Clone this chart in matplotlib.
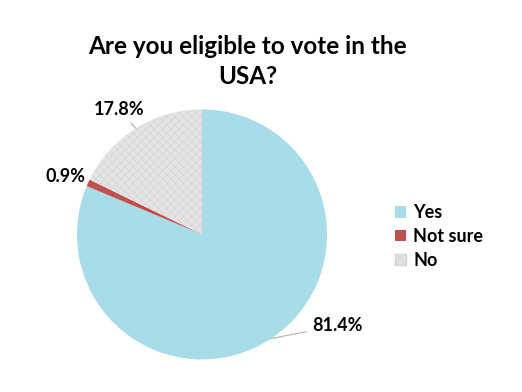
import numpy as np
import matplotlib.pyplot as plt
from matplotlib.patches import Patch

plt.rcParams['font.family'] = ['Lato', 'DejaVu Sans']
plt.rcParams['hatch.linewidth'] = 0.5

# data
labels = ['Yes', 'Not sure', 'No']
values = [81.4, 0.9, 17.8]
colors = ['#A7DCE8', '#C0504D', '#E4E4E4']
# label positions (pie radius = 1)
label_pos = [(1.08, -0.73), (-1.09, 0.46), (-0.66, 1.0)]
leader = [True, False, True]

fig = plt.figure(figsize=(5.22, 3.92), dpi=100)
ax = fig.add_axes([0.1475, 0.083, 0.479, 0.638])

wedges, _ = ax.pie(values, colors=colors, startangle=90, counterclock=False,
                   wedgeprops=dict(linewidth=0))
wedges[2].set_hatch('xxxx')
wedges[2].set_edgecolor('#D4D4D4')
wedges[2].set_linewidth(0)
ax.set_xlim(-1, 1)
ax.set_ylim(-1, 1)

for w, v, pos, ld in zip(wedges, values, label_pos, leader):
    mid = np.deg2rad((w.theta1 + w.theta2) / 2)
    if ld:
        ax.annotate(f'{v:.1f}%', xy=(np.cos(mid), np.sin(mid)), xytext=pos,
                    ha='center', va='center', fontsize=13, fontweight='bold',
                    annotation_clip=False,
                    arrowprops=dict(arrowstyle='-', color='#B0B0B0', lw=0.8,
                                    shrinkA=2, shrinkB=0))
    else:
        ax.text(pos[0], pos[1], f'{v:.1f}%', ha='center', va='center',
                fontsize=13, fontweight='bold')

fig.text(0.475, 1 - 61.5 / 392, 'Are you eligible to vote in the\nUSA?',
         ha='center', va='center', fontsize=17.5, fontweight='bold', linespacing=1.4)

handles = [Patch(facecolor=c, edgecolor='none') for c in colors]
handles[2].set_hatch('xxxx')
handles[2].set_edgecolor('#D4D4D4')
fig.legend(handles, labels, loc='upper left', bbox_to_anchor=(379 / 522, 1 - 188 / 392),
           frameon=False, handlelength=0.6, handleheight=0.6,
           handletextpad=0.4, labelspacing=0.38,
           prop=dict(weight='bold', size=13))

fig.savefig('out.png', dpi=100)
